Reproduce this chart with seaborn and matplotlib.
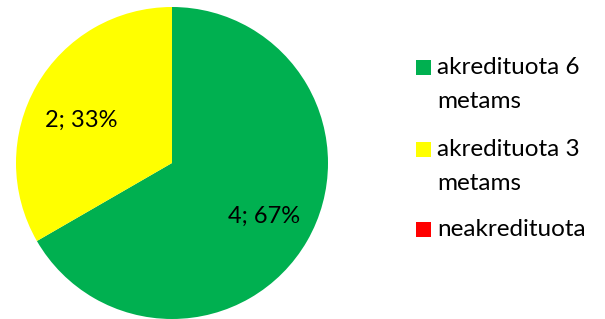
import matplotlib
matplotlib.use('Agg')
import matplotlib.pyplot as plt
from matplotlib.patches import Rectangle
import seaborn as sns

categories = ['akredituota 6\nmetams', 'akredituota 3\nmetams', 'neakredituota']
counts = [4, 2, 0]
colors = ['#00B050', '#FFFF00', '#FF0000']

sns.set_style('white')
plt.rcParams['font.family'] = ['Lato', 'DejaVu Sans']

W, H = 605, 319
fig = plt.figure(figsize=(W / 100, H / 100), dpi=100)
# pie area in figure pixels: x 16..328, y 0..312 from bottom
ax = fig.add_axes([16 / W, 0 / H, 312 / W, 312 / H])

total = sum(counts)


def fmt(pct):
    n = round(pct * total / 100)
    return f'{n}; {pct:.0f}%' if n > 0 else ''


wedges, texts, autotexts = ax.pie(counts, colors=colors, startangle=90, counterclock=False,
                                  autopct=fmt, pctdistance=0.68, radius=1,
                                  wedgeprops={'linewidth': 0},
                                  textprops={'fontsize': 17, 'color': 'black'})
# the yellow slice label sits a bit lower in the original
x, y = autotexts[1].get_position()
autotexts[1].set_position((x + 0.01, y - 0.065))
ax.set_xlim(-1, 1)
ax.set_ylim(-1, 1)
ax.set_aspect('equal')

# legend drawn by hand so the square sits on the first text line
entry_top = [67, 149, 229]   # pixel y (from top) of each entry's first line
line_step = 34
for label, color, y in zip(categories, colors, entry_top):
    fig.patches.append(Rectangle((416 / W, 1 - (y + 7.5) / H), 15 / W, 15 / H,
                                 transform=fig.transFigure, facecolor=color,
                                 edgecolor='none', figure=fig))
    for i, line in enumerate(label.split('\n')):
        fig.text(437 / W, 1 - (y + i * line_step) / H, line, fontsize=17.5,
                 va='center', ha='left', color='black')

fig.savefig('out.png', dpi=100)
